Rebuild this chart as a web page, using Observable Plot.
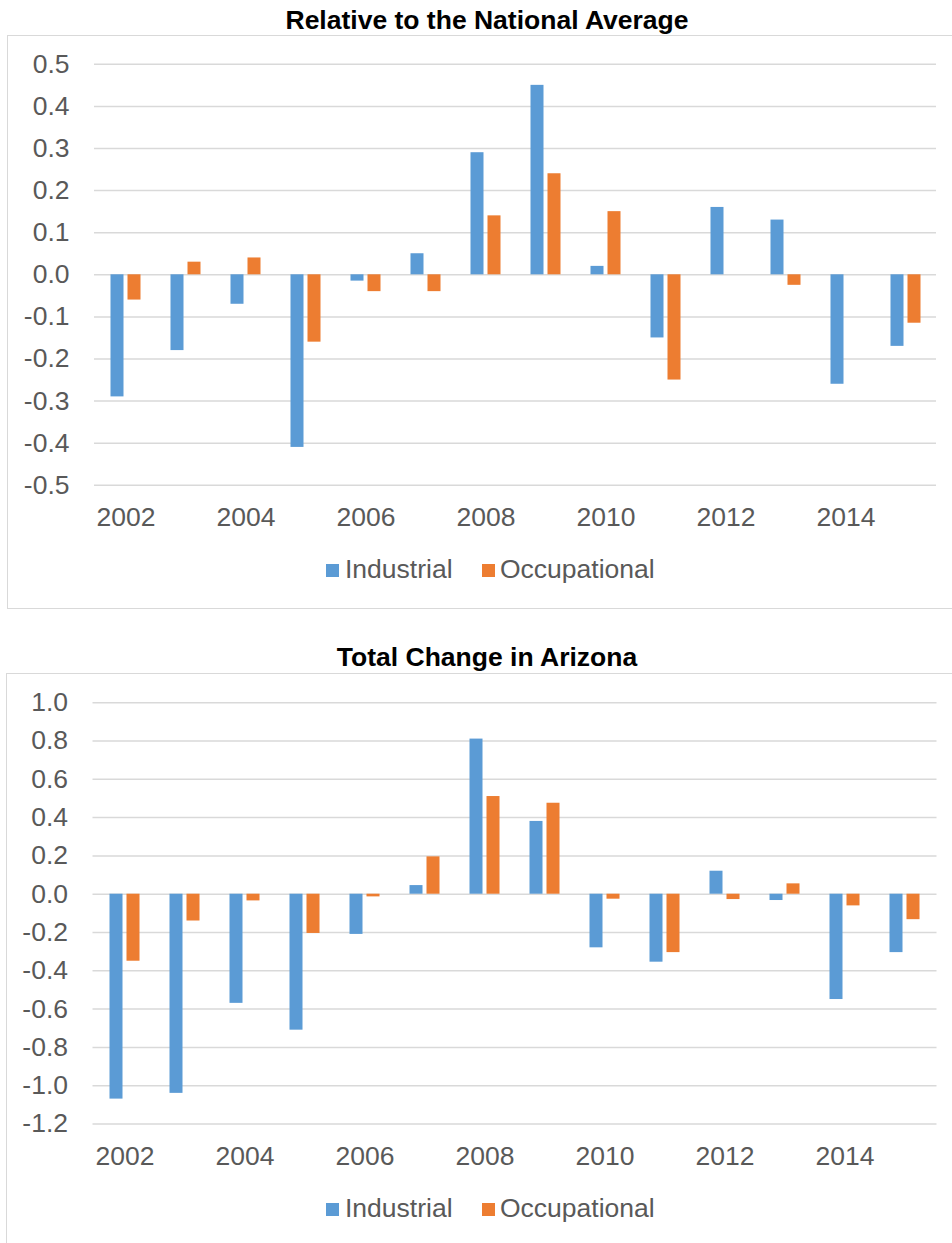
<!DOCTYPE html>
<html>
<head>
<meta charset="utf-8">
<script src="https://cdn.jsdelivr.net/npm/d3@7"></script>
<script src="https://cdn.jsdelivr.net/npm/@observablehq/plot@0.6"></script>
<style>
  html, body { margin: 0; padding: 0; background: #fff; }
  body { width: 952px; height: 1243px; position: relative; overflow: hidden;
         font-family: "Liberation Sans", Arial, sans-serif; }
  .title { position: absolute; transform: translateX(-50%); white-space: nowrap;
           font-weight: bold; font-size: 26.5px; line-height: 26.5px; color: #000; }
  .box { position: absolute; border: 1.5px solid #D9D9D9; box-sizing: border-box; }
  .svgwrap { position: absolute; left: 0; }
  .sw { position: absolute; width: 12.5px; height: 13px; }
  .lt { position: absolute; font-size: 26.5px; line-height: 26.5px; color: #595959; white-space: nowrap; }
</style>
</head>
<body>
<div id="root"></div>
<script>
// ---- data ----
const years = [2002, 2003, 2004, 2005, 2006, 2007, 2008, 2009, 2010, 2011, 2012, 2013, 2014, 2015];
const seriesNames = ["Industrial", "Occupational"];

const relIndustrial   = [-0.29, -0.18, -0.07, -0.41, -0.015, 0.05, 0.29, 0.45, 0.02, -0.15, 0.16, 0.13, -0.26, -0.17];
const relOccupational = [-0.06, 0.03, 0.04, -0.16, -0.04, -0.04, 0.14, 0.24, 0.15, -0.25, 0, -0.025, 0, -0.115];

const totIndustrial   = [-1.07, -1.04, -0.57, -0.71, -0.21, 0.045, 0.81, 0.38, -0.28, -0.355, 0.12, -0.033, -0.55, -0.305];
const totOccupational = [-0.35, -0.14, -0.035, -0.205, -0.014, 0.195, 0.51, 0.475, -0.026, -0.305, -0.028, 0.054, -0.061, -0.133];

const relTicks = [-0.5, -0.4, -0.3, -0.2, -0.1, 0, 0.1, 0.2, 0.3, 0.4, 0.5];
const totTicks = [-1.2, -1.0, -0.8, -0.6, -0.4, -0.2, 0, 0.2, 0.4, 0.6, 0.8, 1.0];

const titleRel = "Relative to the National Average";
const titleTot = "Total Change in Arizona";

const colors = {Industrial: "#5B9BD5", Occupational: "#ED7D31"};

function rows(ind, occ) {
  return {
    ind: years.map((y, i) => ({year: y, series: "Industrial", value: ind[i]})),
    occ: years.map((y, i) => ({year: y, series: "Occupational", value: occ[i]}))
  };
}

function drawChart(cfg) {
  const root = document.getElementById("root");
  const box = document.createElement("div");
  box.className = "box";
  Object.assign(box.style, {left: cfg.boxLeft + "px", top: cfg.boxTop + "px",
    width: (960 - cfg.boxLeft) + "px", height: cfg.boxHeight + "px"});
  root.appendChild(box);
  const t = document.createElement("div");
  t.className = "title";
  t.textContent = cfg.title;
  Object.assign(t.style, {left: "487px", top: cfg.titleTop + "px"});
  root.appendChild(t);

  const d = rows(cfg.ind, cfg.occ);
  const H = 510;
  const svg = Plot.plot({
    width: 952,
    height: H,
    marginLeft: cfg.plotLeft,
    marginRight: 952 - cfg.plotRight,
    marginTop: cfg.plotTop - cfg.boxTop,
    marginBottom: H - (cfg.plotBottom - cfg.boxTop),
    style: {fontFamily: "'Liberation Sans', Arial, sans-serif", fontSize: "26.5px",
            color: "#595959", background: "transparent", overflow: "visible"},
    x: {domain: years, paddingInner: 0.784, paddingOuter: 0.392, label: null,
        tickSize: 0, tickPadding: 22, tickFormat: y => (y % 2 === 0 ? String(y) : "")},
    y: {domain: cfg.domain, ticks: cfg.ticks, tickFormat: v => v.toFixed(1),
        tickSize: 0, tickPadding: 25, label: null},
    marks: [
      Plot.ruleY(cfg.ticks, {stroke: "#D9D9D9", strokeWidth: 1.5}),
      Plot.barY(d.ind, {x: "year", y: "value", fill: colors.Industrial, dx: -8.5}),
      Plot.barY(d.occ, {x: "year", y: "value", fill: colors.Occupational, dx: 8.5})
    ]
  });
  const wrap = document.createElement("div");
  wrap.className = "svgwrap";
  wrap.style.top = cfg.boxTop + "px";
  wrap.appendChild(svg);
  root.appendChild(wrap);

  const items = [
    {name: seriesNames[0], sw: 326, tx: 345},
    {name: seriesNames[1], sw: 482, tx: 500}
  ];
  for (const it of items) {
    const s = document.createElement("div");
    s.className = "sw";
    Object.assign(s.style, {left: it.sw + "px", top: cfg.legendSwTop + "px", background: colors[it.name]});
    root.appendChild(s);
    const l = document.createElement("div");
    l.className = "lt";
    l.textContent = it.name;
    Object.assign(l.style, {left: it.tx + "px", top: cfg.legendTextTop + "px"});
    root.appendChild(l);
  }
}

drawChart({
  title: titleRel, titleTop: 7.3,
  boxLeft: 7, boxTop: 34.5, boxHeight: 574,
  plotLeft: 94, plotRight: 936, plotTop: 63.3, plotBottom: 484.3,
  domain: [-0.5, 0.5], ticks: relTicks,
  ind: relIndustrial, occ: relOccupational,
  legendSwTop: 563.5, legendTextTop: 555.9
});

drawChart({
  title: titleTot, titleTop: 644,
  boxLeft: 6, boxTop: 672.5, boxHeight: 600,
  plotLeft: 92.5, plotRight: 936.5, plotTop: 701.7, plotBottom: 1123,
  domain: [-1.2, 1.0], ticks: totTicks,
  ind: totIndustrial, occ: totOccupational,
  legendSwTop: 1203, legendTextTop: 1194.9
});
</script>
</body>
</html>
